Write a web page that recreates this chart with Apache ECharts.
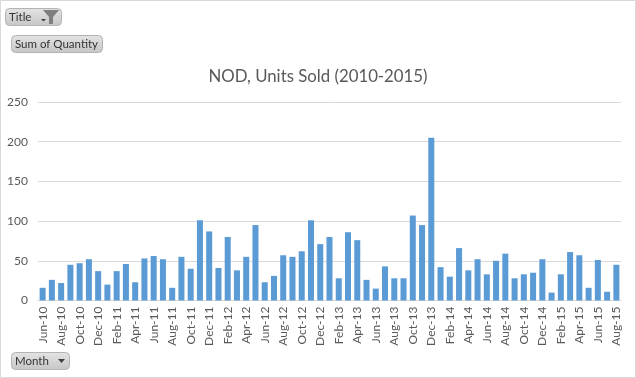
<!DOCTYPE html>
<html><head><meta charset="utf-8">
<style>html,body{margin:0;padding:0;background:#fff}#c{width:636px;height:378px}</style>
<script src="https://cdn.jsdelivr.net/npm/echarts@6/dist/echarts.min.js"></script>
</head><body><div id="c"></div>
<script>
const titleText = 'NOD, Units Sold (2010-2015)';
const months = ['Jun-10','Jul-10','Aug-10','Sep-10','Oct-10','Nov-10','Dec-10','Jan-11','Feb-11','Mar-11','Apr-11','May-11','Jun-11','Jul-11','Aug-11','Sep-11','Oct-11','Nov-11','Dec-11','Jan-12','Feb-12','Mar-12','Apr-12','May-12','Jun-12','Jul-12','Aug-12','Sep-12','Oct-12','Nov-12','Dec-12','Jan-13','Feb-13','Mar-13','Apr-13','May-13','Jun-13','Jul-13','Aug-13','Sep-13','Oct-13','Nov-13','Dec-13','Jan-14','Feb-14','Mar-14','Apr-14','May-14','Jun-14','Jul-14','Aug-14','Sep-14','Oct-14','Nov-14','Dec-14','Jan-15','Feb-15','Mar-15','Apr-15','May-15','Jun-15','Jul-15','Aug-15'];
const quantity = [16,26,22,45,47,52,37,20,37,46,23,53,56,52,16,55,40,101,87,41,80,38,55,95,23,31,57,55,62,101,71,80,28,86,76,26,15,43,28,28,107,95,205,42,30,66,38,52,33,50,59,28,33,35,52,10,33,61,57,16,51,11,45];
const font = 'Lato, "Open Sans", sans-serif';
function button(x,y,w,h,label){
  return [
    {type:'rect',shape:{x:x+.5,y:y+.5,width:w,height:h,r:4},style:{fill:{type:'linear',x:0,y:0,x2:0,y2:1,colorStops:[{offset:0,color:'#e4e4e4'},{offset:1,color:'#c6c6c6'}]},stroke:'#b4b4b4',lineWidth:1}},
    {type:'text',x:x+4,y:y+h/2+.5,style:{text:label,font:'11.5px '+font,fill:'#333',textVerticalAlign:'middle'}}
  ];
}
const chart = echarts.init(document.getElementById('c'),null,{renderer:'canvas'});
chart.setOption({
  animation:false,
  title:{text:titleText,left:313,top:63,textAlign:'center',textStyle:{fontFamily:font,fontWeight:'normal',fontSize:16.8,color:'#595959'}},
  grid:{left:38,right:15,top:102,bottom:77.5,containLabel:false},
  xAxis:{type:'category',data:months,
    axisLine:{lineStyle:{color:'#d9d9d9'}},axisTick:{show:false},
    axisLabel:{rotate:90,interval:1,fontFamily:font,fontSize:12,color:'#595959',margin:6}},
  yAxis:{type:'value',min:0,max:250,interval:50,
    axisLine:{show:false},axisTick:{show:false},
    splitLine:{lineStyle:{color:'#d9d9d9'}},
    axisLabel:{fontFamily:font,fontSize:12,color:'#595959',margin:10}},
  series:[{type:'bar',data:quantity,barWidth:'65%',itemStyle:{color:'#5b9bd5'}}],
  graphic:[
    {type:'rect',shape:{x:.5,y:.5,width:635,height:377},style:{fill:'none',stroke:'#d9d9d9',lineWidth:1}},
    ...button(5,8,56,17,'Title'),
    {type:'polygon',shape:{points:[[43,10],[59,10],[53,17],[53,24],[49,24],[49,17]]},style:{fill:'#7f7f7f'}},
    {type:'polygon',shape:{points:[[41,19],[46,19],[43.5,21.5]]},style:{fill:'#404040'}},
    ...button(11,35,91,17,'Sum of Quantity'),
    ...button(11,352,58,17,'Month'),
    {type:'polygon',shape:{points:[[58,359],[65,359],[61.5,363]]},style:{fill:'#404040'}}
  ]
});
</script></body></html>
